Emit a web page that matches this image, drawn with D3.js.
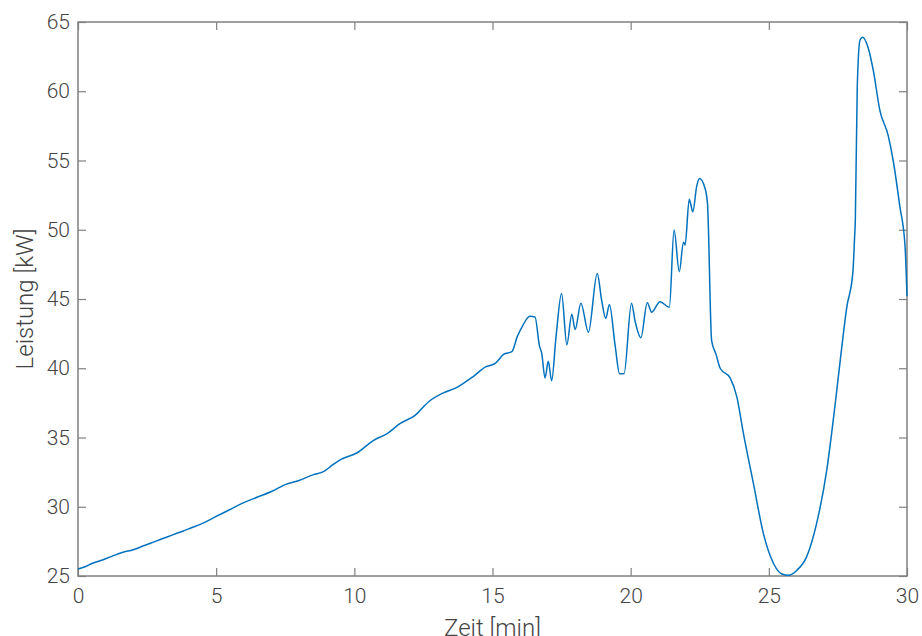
<!DOCTYPE html>
<html>
<head>
<meta charset="utf-8">
<script src="https://cdn.jsdelivr.net/npm/d3@7"></script>
<style>
  body { margin: 0; background: #fff; }
  svg { display: block; }
  .tick_label { font-family: Roboto, sans-serif; font-weight: 300; font-size: 21px; fill: #444; }
  .axis_title { font-family: Roboto, sans-serif; font-weight: 300; font-size: 24px; fill: #444; }
</style>
</head>
<body>
<div id="power_chart"></div>
<script>
(() => {

  // Zeit in Minuten
  let time = [
    0.0, 0.3, 0.5, 0.8, 1.2, 1.6, 2.0, 2.4, 2.8, 3.2, 3.6, 4.0, 4.5, 5.0, 5.5, 6.0,
    6.5, 7.0, 7.5, 8.0, 8.5, 8.9, 9.2, 9.5, 10.1, 10.7, 11.2, 11.65, 12.2, 12.7, 13.2, 13.7,
    14.3, 14.75, 15.1, 15.4, 15.7, 15.9, 16.1, 16.35, 16.54, 16.7, 16.78, 16.9, 17.02, 17.14,
    17.3, 17.5, 17.69, 17.87, 17.99, 18.2, 18.47, 18.79, 18.95, 19.1, 19.23, 19.44, 19.6, 19.76,
    20.03, 20.16, 20.37, 20.6, 20.76, 21.06, 21.4, 21.57, 21.76, 21.91, 21.97, 22.12, 22.25, 22.39,
    22.49, 22.69, 22.78, 22.93, 23.09, 23.24, 23.6, 23.84, 24.08, 24.44, 24.8, 25.17, 25.47, 25.71,
    26.01, 26.37, 26.73, 27.1, 27.4, 27.58, 27.82, 28.04, 28.1, 28.13, 28.2, 28.3, 28.4, 28.6,
    28.78, 29.02, 29.32, 29.5, 29.74, 29.93, 30.0
  ]

  // Leistung in kW
  let power = [
    25.5, 25.7, 25.9, 26.1, 26.4, 26.7, 26.9, 27.2, 27.5, 27.8, 28.1, 28.4, 28.8, 29.3, 29.8, 30.3,
    30.7, 31.1, 31.6, 31.9, 32.3, 32.55, 33.0, 33.4, 33.9, 34.8, 35.3, 36.0, 36.6, 37.6, 38.2, 38.6,
    39.4, 40.1, 40.35, 41.0, 41.2, 42.3, 43.1, 43.75, 43.7, 41.6, 41.1, 39.3, 40.5, 39.1,
    42.3, 45.4, 41.7, 43.9, 42.8, 44.7, 42.6, 46.85, 44.9, 43.6, 44.6, 41.6, 39.6, 39.6,
    44.7, 43.4, 42.2, 44.73, 44.05, 44.8, 44.4, 49.98, 46.97, 49.1, 48.9, 52.2, 51.3, 53.15,
    53.7, 53.0, 51.9, 42.0, 41.0, 40.0, 39.3, 37.95, 35.3, 31.7, 28.1, 25.9, 25.14, 25.05,
    25.4, 26.4, 28.8, 32.7, 37.4, 40.5, 44.4, 46.9, 49.3, 50.7, 60.3, 63.7, 63.9, 63.1,
    61.5, 58.6, 56.8, 55.0, 51.7, 48.8, 45.2
  ]

  let x_ticks = [0, 5, 10, 15, 20, 25, 30]
  let y_ticks = [25, 30, 35, 40, 45, 50, 55, 60, 65]

  let data = time.map((t, i) => ({t: t, p: power[i]}))

  let svg = d3.select("#power_chart")
  .append("svg")
  .attr("width", 922)
  .attr("height", 636)

  let margin = {top: 22, right: 15, bottom: 60, left: 78}
  let width = svg.attr("width") - margin.left - margin.right
  let height = svg.attr("height") - margin.top - margin.bottom

  let g = svg.append("g")
  .attr("transform", "translate(" + margin.left + "," + margin.top + ")")

  //X axis
  let x = d3.scaleLinear()
  .domain([0, 30])
  .range([0, width])

  //Y axis
  let y = d3.scaleLinear()
  .domain([25, 65])
  .range([height, 0])

  let tick_len = 8
  let axis_color = "#808080"

  // inner ticks on all four sides
  let styleAxis = sel => {
    sel.select(".domain").remove()
    sel.selectAll(".tick line").attr("stroke", axis_color).attr("stroke-width", 1.2)
  }

  g.append("g")
  .attr("transform", "translate(0," + height + ")")
  .call(d3.axisBottom(x).tickValues(x_ticks).tickSizeInner(-tick_len).tickSizeOuter(0).tickPadding(12))
  .call(styleAxis)
  .selectAll("text")
  .attr("class", "tick_label")
  .attr("dy", "0.72em")

  g.append("g")
  .call(d3.axisTop(x).tickValues(x_ticks).tickSizeInner(-tick_len).tickSizeOuter(0).tickFormat(""))
  .call(styleAxis)

  g.append("g")
  .call(d3.axisLeft(y).tickValues(y_ticks).tickSizeInner(-tick_len).tickSizeOuter(0).tickPadding(8))
  .call(styleAxis)
  .selectAll("text")
  .attr("class", "tick_label")

  g.append("g")
  .attr("transform", "translate(" + width + ",0)")
  .call(d3.axisRight(y).tickValues(y_ticks).tickSizeInner(-tick_len).tickSizeOuter(0).tickFormat(""))
  .call(styleAxis)

  // box
  g.append("rect")
  .attr("width", width)
  .attr("height", height)
  .attr("fill", "none")
  .attr("stroke", axis_color)
  .attr("stroke-width", 1.5)

  let line = d3.line()
  .x(d => x(d.t))
  .y(d => y(d.p))
  .curve(d3.curveMonotoneX)

  g.append("path")
  .datum(data)
  .attr("d", line)
  .attr("fill", "none")
  .attr("stroke", "#0072BD")
  .attr("stroke-width", 1.5)

  g.append("text")
  .attr("class", "axis_title")
  .attr("x", width / 2)
  .attr("y", height + 60)
  .style("text-anchor", "middle")
  .text("Zeit [min]")

  svg.append("text")
  .attr("class", "axis_title")
  .attr("transform", "translate(33," + (margin.top + height / 2) + ") rotate(-90)")
  .style("text-anchor", "middle")
  .text("Leistung [kW]")

})()
</script>
</body>
</html>
